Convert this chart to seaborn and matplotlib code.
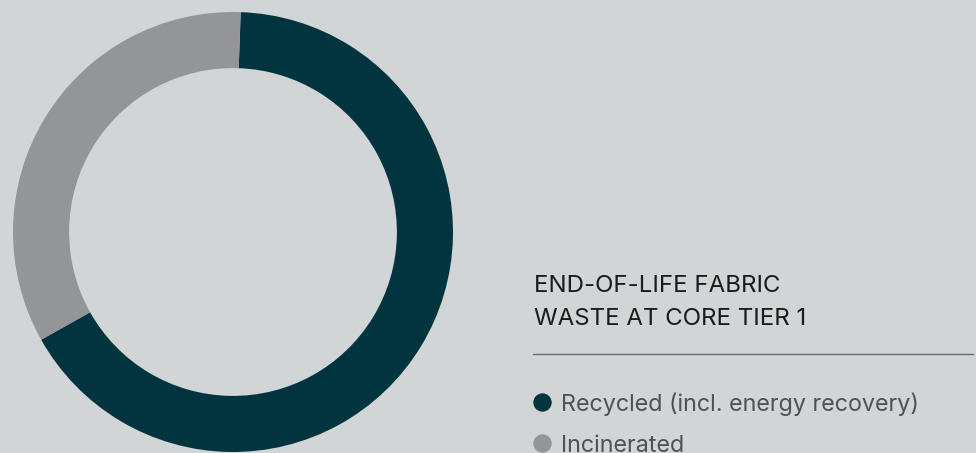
import matplotlib
matplotlib.use("Agg")
import matplotlib.pyplot as plt
import seaborn as sns

# data
labels = ["Recycled (incl. energy recovery)", "Incinerated"]
shares = [66.3, 33.7]
colors = ["#023440", "#939598"]
title_lines = ["END-OF-LIFE FABRIC", "WASTE AT CORE TIER 1"]

bg = "#d1d5d6"
W, H = 976, 453

sns.set_theme(style="white")
plt.rcParams["font.family"] = ["Inter", "DejaVu Sans"]

fig = plt.figure(figsize=(W / 100, H / 100), dpi=100, facecolor=bg)

# donut
ax = fig.add_axes([13 / W, 1 / H, 440 / W, 440 / H])
ax.set_facecolor(bg)
ax.pie(shares, colors=colors, startangle=88, counterclock=False,
       radius=1, wedgeprops=dict(width=0.255, linewidth=0))
ax.set_xlim(-1, 1)
ax.set_ylim(-1, 1)
ax.set_aspect("equal")
ax.axis("off")

# overlay for text / legend in pixel coords
ov = fig.add_axes([0, 0, 1, 1], facecolor="none")
ov.set_xlim(0, W)
ov.set_ylim(H, 0)
ov.axis("off")

for i, line in enumerate(title_lines):
    ov.text(534, 292 + i * 33, line, fontsize=17.3, color="#1b1b1b",
            va="baseline", ha="left")

ov.plot([533, 973], [354, 354], color="#6b6b6b", lw=1)

for i, (lab, col) in enumerate(zip(labels, colors)):
    y = 402.3 + i * 41
    ov.scatter([542], [y], s=175, color=col, linewidths=0)
    ov.text(561, 411.5 + i * 41, lab, fontsize=16.8, color="#4f5153",
            va="baseline", ha="left")

fig.savefig("out.png", dpi=100, facecolor=bg)
